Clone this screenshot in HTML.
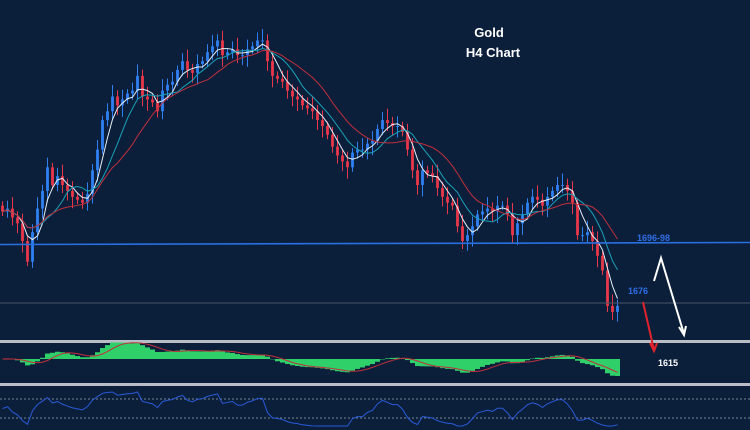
<!DOCTYPE html>
<html><head><meta charset="utf-8"><style>
html,body{margin:0;padding:0;background:#0b1f3b;}
svg{display:block;}
</style></head><body>
<svg id="c" width="750" height="430" xmlns="http://www.w3.org/2000/svg">
<rect width="750" height="430" fill="#0b1f3b"/>
<g id="main"></g>
<line x1="0" y1="244.5" x2="750" y2="242.5" stroke="#2a6fe0" stroke-width="1.6"/>
<line x1="0" y1="303" x2="750" y2="303" stroke="#4a5567" stroke-width="1"/>
<rect x="0" y="340" width="750" height="3" fill="#b9bec6"/>
<rect x="0" y="383" width="750" height="3" fill="#b9bec6"/>
<line x1="0" y1="399" x2="750" y2="399" stroke="#7a8596" stroke-dasharray="2,2"/>
<line x1="0" y1="418" x2="750" y2="418" stroke="#7a8596" stroke-dasharray="2,2"/>
<g id="macd"></g>
<g id="rsi"></g>
<text x="489" y="37" fill="#fff" font-family="Liberation Sans, sans-serif" font-weight="bold" font-size="13" text-anchor="middle">Gold</text>
<text x="493" y="57" fill="#fff" font-family="Liberation Sans, sans-serif" font-weight="bold" font-size="13" text-anchor="middle">H4 Chart</text>
<text x="637" y="241" fill="#2f6fe6" font-family="Liberation Sans, sans-serif" font-weight="bold" font-size="9">1696-98</text>
<text x="628" y="294" fill="#2f6fe6" font-family="Liberation Sans, sans-serif" font-weight="bold" font-size="9">1676</text>
<text x="658" y="366" fill="#fff" font-family="Liberation Sans, sans-serif" font-weight="bold" font-size="9">1615</text>
<g stroke="#e0232b" stroke-width="2" fill="none">
<line x1="643" y1="302" x2="654" y2="350"/><polyline points="650,343 654,351 657,343"/></g>
<g stroke="#fff" stroke-width="2" fill="none">
<polyline points="654,281 661,258 684,334"/><polyline points="679,327 684,335 686,326"/></g>
</svg>
<script>
const closes=[1707,1708,1705,1703,1697,1690,1700,1708,1714,1722,1716,1719,1716,1714,1712,1711,1710,1713,1721,1728,1738,1741,1746,1743,1745,1747,1748,1753,1746,1745,1744,1741,1748,1750,1751,1755,1758,1755,1754,1757,1758,1761,1763,1765,1760,1761,1762,1760,1760,1762,1763,1765,1765,1758,1753,1752,1751,1748,1746,1745,1743,1742,1741,1738,1736,1733,1729,1726,1724,1722,1727,1728,1728,1730,1731,1735,1738,1737,1736,1736,1734,1728,1721,1716,1721,1720,1719,1715,1712,1710,1709,1702,1697,1699,1702,1706,1707,1708,1707,1709,1709,1706,1699,1703,1706,1710,1712,1711,1709,1712,1714,1716,1716,1714,1710,1699,1699,1700,1697,1692,1687,1675,1673,1675];
const firstOpen=1709;
const levelTicks=[1696,1676];
const NS='http://www.w3.org/2000/svg';
const X=i=>2.5+i*5;
const Y=p=>244-(p-1696)*2.95;
function el(tag,attrs,parent){const e=document.createElementNS(NS,tag);for(const k in attrs)e.setAttribute(k,attrs[k]);parent.appendChild(e);return e;}
const main=document.getElementById('main');
closes.forEach((c,i)=>{
 const o=i?closes[i-1]:firstOpen;
 const up=c>=o;const col=up?'#2f80f2':'#e8364a';
 const hi=Math.max(o,c)+1.5+((i*7)%5)*0.6, lo=Math.min(o,c)-1.5-((i*11)%5)*0.6;
 const w=el('line',{x1:X(i),x2:X(i),y1:Y(hi),y2:Y(lo),stroke:col,'stroke-width':1},main);
 
 
 const b=el('rect',{x:X(i)-1.4,width:2.8,y:Y(Math.max(o,c)),height:Math.max(1,Math.abs(Y(o)-Y(c))),fill:col},main);
 
 
});
function sma(a,n){return a.map((v,i)=>{const s=a.slice(Math.max(0,i-n+1),i+1);return s.reduce((x,y)=>x+y,0)/s.length;});}
function ema(a,n){const k=2/(n+1);let r=[];a.forEach((v,i)=>r.push(i?v*k+r[i-1]*(1-k):v));return r;}
[[sma(closes,4),'#e8eef5'],[sma(closes,8),'#1aa3b8'],[sma(closes,14),'#c0303c']].forEach(([m,col],j)=>{
 const p=el('polyline',{points:m.map((v,i)=>X(i)+','+Y(v)).join(' '),fill:'none',stroke:col,'stroke-width':1},main);
 
 
});
const macdG=document.getElementById('macd');
const e12=ema(closes,6),e26=ema(closes,13);
const macd=e12.map((v,i)=>v-e26[i]);
const sig=sma(macd,5);
const mx=Math.max(...macd.map(Math.abs));
const MY=v=>359-v/mx*17;
macd.forEach((v,i)=>{
 const r=el('rect',{x:X(i)-2.5,width:5,y:Math.min(MY(v),359),height:Math.abs(MY(v)-359),fill:'#2fcf6a'},macdG);
 
 
});
const sl=el('polyline',{points:sig.map((v,i)=>X(i)+','+MY(v)).join(' '),fill:'none',stroke:'#c0303c','stroke-width':1},macdG);


const rsiG=document.getElementById('rsi');
let ag=0,al=0;const rsi=[];
closes.forEach((c,i)=>{const d=i?c-closes[i-1]:0;const g=Math.max(d,0),l=Math.max(-d,0);ag=i?(ag*6+g)/7:1;al=i?(al*6+l)/7:1;rsi.push(100-100/(1+ag/(al||0.001)));});
const RY=v=>399+(70-v)/40*19;
const rl=el('polyline',{points:rsi.map((v,i)=>X(i)+','+Math.max(392,Math.min(426,RY(v)))).join(' '),fill:'none',stroke:'#2a5ad8','stroke-width':1},rsiG);


</script>
</body></html>
